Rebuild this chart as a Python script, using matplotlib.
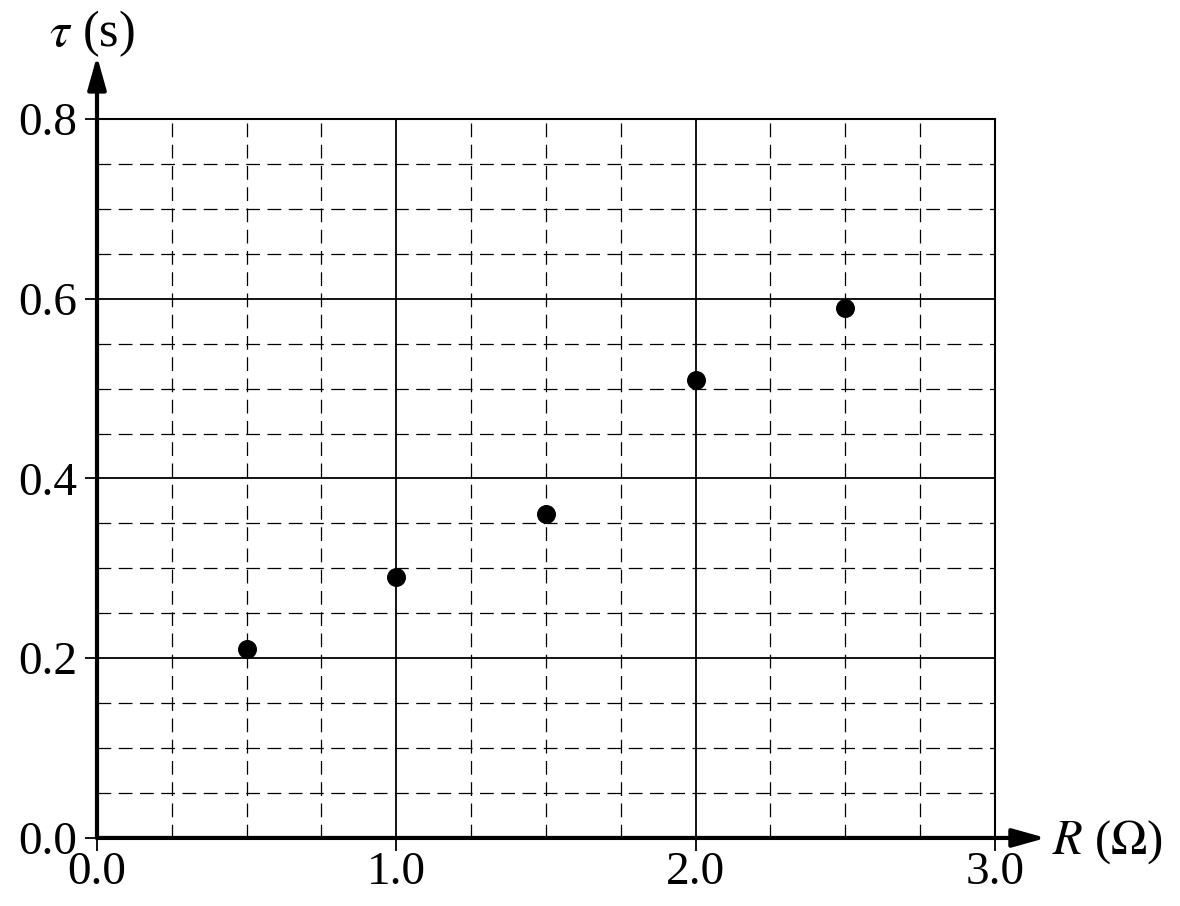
import matplotlib
matplotlib.use('Agg')
import matplotlib.pyplot as plt
from matplotlib.patches import FancyArrowPatch
import numpy as np

# resistance R (ohm) and time constant tau (s)
resistance = [0.5, 1.0, 1.5, 2.0, 2.5]
tau = [0.21, 0.29, 0.36, 0.51, 0.59]

x_major = [0.0, 1.0, 2.0, 3.0]
y_major = [0.0, 0.2, 0.4, 0.6, 0.8]
x_labels = ['0.0', '1.0', '2.0', '3.0']
y_labels = ['0.0', '0.2', '0.4', '0.6', '0.8']

plt.rcParams['font.family'] = ['Liberation Serif', 'DejaVu Serif']
plt.rcParams['mathtext.fontset'] = 'stix'

fig = plt.figure(figsize=(11.8, 9.06), dpi=100)
ax = fig.add_axes([0.0822, 0.0751, 0.761, 0.7936])
ax.set_xlim(0, 3.0)
ax.set_ylim(0, 0.8)

# minor dashed grid
for xv in np.arange(0.25, 3.0, 0.25):
    if abs(xv - round(xv)) > 1e-6:
        ax.axvline(xv, color='black', lw=0.9, dashes=(11, 6), zorder=1)
for yv in np.arange(0.05, 0.8, 0.05):
    if abs(yv * 5 - round(yv * 5)) > 1e-6:
        ax.axhline(yv, color='black', lw=0.9, dashes=(11, 6), zorder=1)
# major solid grid
for xv in x_major[1:-1]:
    ax.axvline(xv, color='black', lw=1.3, zorder=1)
for yv in y_major[1:-1]:
    ax.axhline(yv, color='black', lw=1.3, zorder=1)

ax.scatter(resistance, tau, s=160, color='black', zorder=3)

for side in ['top', 'right']:
    ax.spines[side].set_linewidth(1.5)
for side in ['left', 'bottom']:
    ax.spines[side].set_visible(False)

ax.set_xticks(x_major)
ax.set_xticklabels(x_labels)
ax.set_yticks(y_major)
ax.set_yticklabels(y_labels)
ax.tick_params(direction='out', length=9, width=1.3, labelsize=34)
ax.tick_params(axis='y', pad=5)
ax.tick_params(axis='x', pad=1)

# axes with arrow heads
for start, end in [((0, 0), (0, 0.87)), ((0, 0), (3.17, 0))]:
    arr = FancyArrowPatch(start, end, arrowstyle='-|>,head_length=1.0,head_width=0.28',
                          mutation_scale=20, color='black', lw=3, clip_on=False,
                          shrinkA=0, shrinkB=0, zorder=4, transform=ax.transData)
    ax.add_patch(arr)

ax.text(-0.16, 0.895, r'$\tau$ (s)', fontsize=36, ha='left', va='center', clip_on=False)
ax.text(3.19, -0.005, r'$R$ ($\Omega$)', fontsize=35, ha='left', va='center', clip_on=False)

fig.savefig('out.png', dpi=100)
